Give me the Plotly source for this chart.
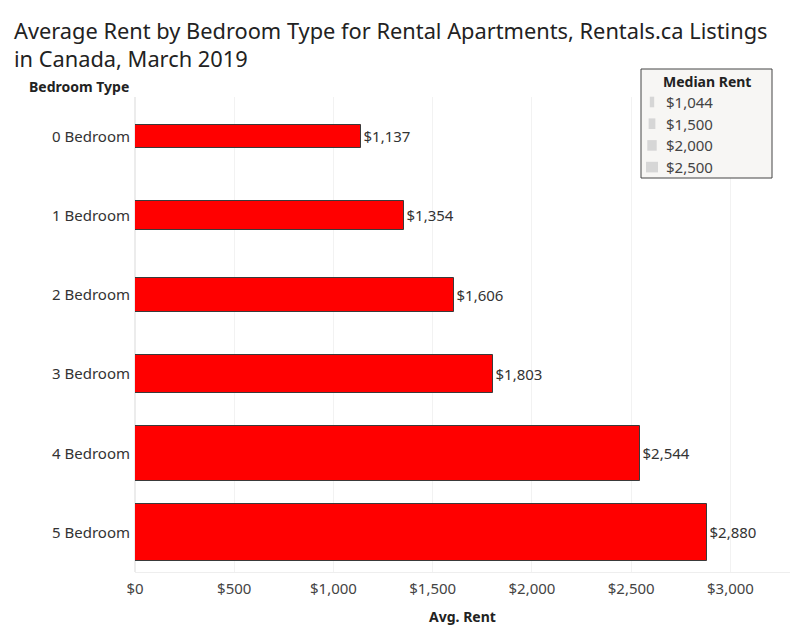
import plotly.graph_objects as go

categories = ["0 Bedroom", "1 Bedroom", "2 Bedroom", "3 Bedroom", "4 Bedroom", "5 Bedroom"]
avg_rent = [1137, 1354, 1606, 1803, 2544, 2880]
median_rent = [1044, 1282, 1490, 1670, 2435, 2495]
legend_values = [1044, 1500, 2000, 2500]
legend_labels = ["$1,044", "$1,500", "$2,000", "$2,500"]
x_tickvals = [0, 500, 1000, 1500, 2000, 2500, 3000]
x_ticktext = ["$0", "$500", "$1,000", "$1,500", "$2,000", "$2,500", "$3,000"]

FONT = "Noto Sans"
TXT = "#333333"

# page offset (default body margin in the browser)
OFF = 8
W, H = 800, 640
# plot area in screenshot pixels
L, R, T, B = 135, 790, 97, 572


def px(x):
    return (x - L) / (R - L)


def py(y):
    return (B - y) / (B - T)


# bar thickness (in category units) proportional to median rent
width_scale = 0.30 / 1044
widths = [m * width_scale for m in median_rent]

fig = go.Figure()
fig.add_trace(go.Bar(
    y=categories, x=avg_rent, orientation="h", width=widths,
    marker=dict(color="#ff0000", line=dict(color="#3a3a3a", width=1)),
    text=[f"${v:,}" for v in avg_rent], textposition="outside",
    textfont=dict(family=FONT, size=15, color=TXT),
    cliponaxis=False, showlegend=False, hoverinfo="skip",
))

fig.update_layout(
    width=W, height=H,
    paper_bgcolor="white", plot_bgcolor="white",
    margin=dict(l=L - OFF, r=W - R + OFF, t=T - OFF, b=H - B + OFF, autoexpand=False),
    font=dict(family=FONT, color=TXT),
    bargap=0,
)
fig.update_xaxes(
    range=[0, 3300], tickvals=x_tickvals, ticktext=x_ticktext,
    tickfont=dict(family=FONT, size=15, color="#444444"),
    showgrid=True, gridcolor="#f2f2f2", gridwidth=1,
    zeroline=True, zerolinecolor="#ececec",
    showline=True, linecolor="#eeeeee",
    ticklabelstandoff=3,
    title=dict(text="<b>Avg. Rent</b>", font=dict(family=FONT, size=14, color="#222222"), standoff=15),
    ticks="", automargin=False,
)
fig.update_yaxes(
    categoryorder="array", categoryarray=categories, autorange="reversed",
    tickfont=dict(family=FONT, size=15, color=TXT), ticks="", ticklen=0,
    ticklabelstandoff=4,
    showgrid=False, zeroline=False, showline=False, automargin=False,
)

# title (two lines)
for text, yc in [("Average Rent by Bedroom Type for Rental Apartments, Rentals.ca Listings", 31),
                 ("in Canada, March 2019", 59)]:
    fig.add_annotation(text=text, xref="paper", yref="paper", x=px(12), y=py(yc),
                       xanchor="left", yanchor="middle", showarrow=False,
                       font=dict(family=FONT, size=21.8, color="#222222"))

fig.add_annotation(
    text="<b>Bedroom Type</b>", xref="paper", yref="paper",
    x=px(131), y=py(87), xanchor="right", yanchor="middle",
    showarrow=False, font=dict(family=FONT, size=14, color="#222222"),
)

# Legend for median rent (size)
lx0, lx1, ly0, ly1 = 641, 772, 69, 178
fig.add_shape(type="rect", xref="paper", yref="paper",
              x0=px(lx0), x1=px(lx1), y0=py(ly1), y1=py(ly0),
              fillcolor="#f7f6f4", line=dict(color="#444444", width=1), layer="above")
fig.add_annotation(text="<b>Median Rent</b>", xref="paper", yref="paper",
                   x=px(707), y=py(82), xanchor="center", yanchor="middle",
                   showarrow=False, font=dict(family=FONT, size=14, color="#222222"))
for i, (v, lab) in enumerate(zip(legend_values, legend_labels)):
    yc = 102 + i * 21.7
    w = v * 0.0053 - 1.2
    fig.add_shape(type="rect", xref="paper", yref="paper",
                  x0=px(652 - w / 2), x1=px(652 + w / 2),
                  y0=py(yc + 5.3), y1=py(yc - 5.3),
                  fillcolor="#d6d6d6", line=dict(width=0), layer="above")
    fig.add_annotation(text=lab, xref="paper", yref="paper",
                       x=px(664), y=py(yc), xanchor="left", yanchor="middle",
                       showarrow=False, font=dict(family=FONT, size=15, color="#444444"))

fig.write_html("out.html")
